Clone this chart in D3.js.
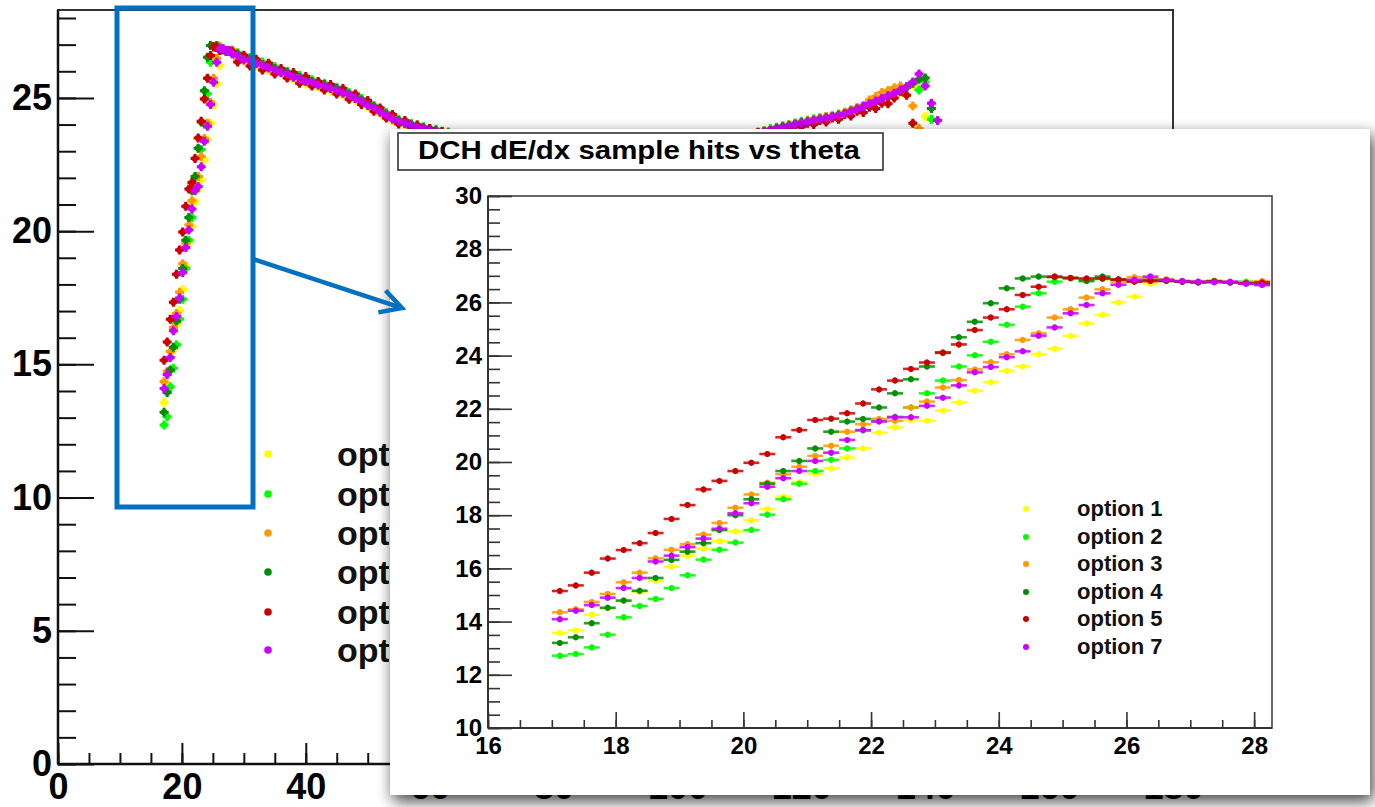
<!DOCTYPE html>
<html>
<head>
<meta charset="utf-8">
<script src="https://cdn.jsdelivr.net/npm/d3@7"></script>
<style>
  html, body { margin: 0; padding: 0; background: #fff; }
  svg { display: block; }
</style>
</head>
<body>
<script>
// ---------------- DATA ----------------
const seriesNames = ["option 1", "option 2", "option 3", "option 4", "option 5", "option 7"];
const seriesColors = ["#ffff00", "#00ff00", "#ff9900", "#008f00", "#cc0000", "#cc00ff"];

// zoomed (inset) binning, theta 17-28.25, bin width 0.25
const insetTheta = [17.125,17.375,17.625,17.875,18.125,18.375,18.625,18.875,19.125,19.375,19.625,19.875,20.125,20.375,20.625,20.875,21.125,21.375,21.625,21.875,22.125,22.375,22.625,22.875,23.125,23.375,23.625,23.875,24.125,24.375,24.625,24.875,25.125,25.375,25.625,25.875,26.125,26.375,26.625,26.875,27.125,27.375,27.625,27.875,28.125];
const opt1 = [13.57,13.67,14.26,14.50,14.78,15.12,15.53,16.06,16.48,16.74,17.02,17.39,17.81,18.23,18.70,19.25,19.55,19.76,20.17,20.51,21.10,21.30,21.58,21.55,21.93,22.24,22.68,23.00,23.42,23.59,24.05,24.26,24.74,25.21,25.53,26.00,26.21,26.71,26.88,26.80,26.78,26.82,26.76,26.74,26.72];
const opt2 = [12.72,12.78,13.03,13.51,14.16,14.59,14.85,15.26,15.74,16.33,16.70,16.97,17.44,18.02,18.60,19.18,19.66,20.08,20.51,21.18,21.55,21.70,22.05,22.58,23.06,23.59,24.01,24.52,25.16,25.84,26.34,26.78,26.90,26.86,26.88,26.84,26.82,26.86,26.82,26.80,26.74,26.76,26.74,26.78,26.70];
const opt3 = [14.35,14.46,14.74,15.04,15.48,15.84,16.38,16.70,16.91,17.27,17.71,18.28,18.78,19.22,19.54,19.82,20.23,20.61,21.14,21.42,21.62,21.55,22.05,22.27,22.80,23.08,23.48,23.75,24.05,24.59,24.84,25.43,25.74,26.18,26.49,26.76,26.95,26.90,26.85,26.80,26.78,26.80,26.76,26.74,26.80];
const opt4 = [13.20,13.41,13.94,14.52,14.79,15.16,15.64,16.32,16.63,16.95,17.44,18.00,18.60,19.18,19.66,20.04,20.51,21.14,21.52,21.62,22.05,22.58,23.11,23.59,24.10,24.69,25.27,25.97,26.53,26.90,26.97,26.95,26.92,26.80,26.97,26.86,26.80,26.84,26.80,26.78,26.76,26.80,26.75,26.72,26.68];
const opt5 = [15.15,15.36,15.84,16.37,16.69,16.95,17.33,17.86,18.38,18.97,19.29,19.66,19.97,20.30,20.93,21.20,21.58,21.63,21.83,22.20,22.73,23.06,23.50,23.74,24.12,24.42,24.96,25.43,25.74,26.28,26.59,26.97,26.92,26.90,26.90,26.86,26.78,26.80,26.82,26.78,26.76,26.78,26.76,26.72,26.75];
const opt7 = [14.09,14.41,14.62,14.90,15.26,15.64,16.26,16.48,16.80,17.12,17.49,18.07,18.45,19.07,19.39,19.66,20.04,20.35,20.83,21.20,21.52,21.68,21.68,22.11,22.42,22.88,23.37,23.57,23.94,24.16,24.75,25.06,25.59,25.90,26.34,26.66,26.85,26.97,26.85,26.80,26.78,26.76,26.78,26.70,26.65];

// full-range (background) plot: visible parts of the band
const bgThetaL = [29,30,31,32,33,34,35,36,37,38,39,40,41,42,43,44,45,46,47,48,49,50,51,52,53,54,55,56,57,58,59,60,61,62,63,64];
const bgOpt1L = [26.40,26.38,26.30,26.20,26.18,26.02,25.95,25.92,25.78,25.70,25.66,25.52,25.50,25.40,25.38,25.25,25.22,25.10,25.02,24.90,24.80,24.66,24.55,24.40,24.30,24.15,24.05,24.00,23.90,23.86,23.80,23.72,23.70,23.62,23.60,23.52];
const bgOpt2L = [26.70,26.55,26.52,26.38,26.35,26.22,26.18,26.05,26.00,25.88,25.85,25.72,25.68,25.58,25.55,25.45,25.40,25.28,25.20,25.08,24.98,24.82,24.72,24.55,24.45,24.28,24.20,24.10,24.05,23.98,23.92,23.85,23.82,23.75,23.72,23.66];
const bgOpt3L = [26.50,26.48,26.35,26.32,26.20,26.18,26.00,26.02,25.85,25.82,25.70,25.68,25.55,25.52,25.42,25.40,25.28,25.22,25.08,25.02,24.85,24.78,24.60,24.50,24.32,24.25,24.10,24.08,23.95,23.95,23.84,23.82,23.72,23.72,23.62,23.62];
const bgOpt4L = [26.65,26.50,26.45,26.35,26.25,26.20,26.10,26.00,25.95,25.82,25.78,25.68,25.62,25.52,25.50,25.40,25.35,25.22,25.15,25.02,24.92,24.78,24.68,24.50,24.40,24.25,24.15,24.08,24.00,23.95,23.88,23.82,23.78,23.72,23.68,23.62];
const bgOpt5L = [26.35,26.60,26.20,26.45,26.05,26.30,25.90,26.10,25.75,25.95,25.55,25.80,25.45,25.62,25.30,25.50,25.15,25.35,24.95,25.15,24.75,24.90,24.50,24.62,24.25,24.38,24.02,24.15,23.90,23.98,23.78,23.85,23.68,23.74,23.58,23.66];
const bgOpt7L = [26.58,26.42,26.40,26.28,26.24,26.12,26.06,25.95,25.92,25.78,25.74,25.62,25.60,25.48,25.46,25.35,25.30,25.18,25.12,24.98,24.88,24.72,24.64,24.46,24.36,24.20,24.12,24.04,23.98,23.90,23.86,23.78,23.76,23.68,23.66,23.58];

const bgThetaR = [112,113,114,115,116,117,118,119,120,121,122,123,124,125,126,127,128,129,130,131,132,133,134,135,136,137,138,139,140,141,142,143];
const bgOpt1R = [23.58,23.66,23.68,23.76,23.80,23.88,23.92,23.98,24.02,24.08,24.12,24.18,24.20,24.26,24.30,24.36,24.45,24.52,24.60,24.70,24.80,24.90,25.00,25.10,25.20,25.35,25.45,25.35,24.30,23.20,null,null];
const bgOpt2R = [23.66,23.72,23.78,23.84,23.90,23.96,24.00,24.06,24.12,24.16,24.22,24.26,24.30,24.34,24.40,24.46,24.55,24.62,24.72,24.82,24.92,25.02,25.12,25.22,25.30,25.42,25.55,25.30,25.60,24.20,23.00,null];
const bgOpt3R = [23.64,23.70,23.76,23.80,23.88,23.92,23.98,24.04,24.10,24.14,24.20,24.24,24.30,24.34,24.38,24.46,24.55,24.64,24.72,24.92,25.05,25.20,25.28,25.38,25.45,25.40,24.70,23.85,23.00,null,null,null];
const bgOpt4R = [23.62,23.68,23.74,23.80,23.86,23.92,23.96,24.02,24.08,24.12,24.16,24.22,24.26,24.30,24.36,24.42,24.50,24.58,24.66,24.76,24.86,24.96,25.06,25.16,25.26,25.40,25.55,25.70,25.75,24.60,23.40,null];
const bgOpt5R = [23.55,23.70,23.62,23.78,23.72,23.88,23.82,23.96,23.92,24.05,24.00,24.15,24.10,24.25,24.20,24.38,24.32,24.50,24.45,24.65,24.60,24.80,24.78,25.00,25.25,25.10,24.05,23.30,22.60,null,null,null];
const bgOpt7R = [23.60,23.66,23.74,23.78,23.86,23.90,23.96,24.00,24.06,24.10,24.16,24.20,24.24,24.30,24.34,24.42,24.50,24.58,24.68,24.78,24.88,24.98,25.08,25.18,25.30,25.42,25.60,25.90,25.45,24.80,24.15,23.50];

// ticks
const bgXTicks = [0,20,40,60,80,100,120,140,160,180];
const bgYTicks = [0,5,10,15,20,25];
const insetXTicks = [16,18,20,22,24,26,28];
const insetYTicks = [10,12,14,16,18,20,22,24,26,28,30];
const insetTitle = "DCH dE/dx sample hits vs theta";

const insetSeries = [opt1, opt2, opt3, opt4, opt5, opt7];
const bgSeriesL = [bgOpt1L, bgOpt2L, bgOpt3L, bgOpt4L, bgOpt5L, bgOpt7L];
const bgSeriesR = [bgOpt1R, bgOpt2R, bgOpt3R, bgOpt4R, bgOpt5R, bgOpt7R];

// ---------------- DRAW ----------------
const W = 1375, H = 807;
const FONT = "'Liberation Sans', Arial, Helvetica, sans-serif";
const svg = d3.select("body").append("svg").attr("width", W).attr("height", H);
svg.append("rect").attr("width", W).attr("height", H).attr("fill", "#fff");

const defs = svg.append("defs");
const f = defs.append("filter").attr("id", "shadow")
  .attr("x", "-8%").attr("y", "-10%").attr("width", "116%").attr("height", "125%");
f.append("feGaussianBlur").attr("in", "SourceAlpha").attr("stdDeviation", 8).attr("result", "b");
f.append("feOffset").attr("in", "b").attr("dx", 3).attr("dy", 6).attr("result", "o");
const ct = f.append("feComponentTransfer").attr("in", "o").attr("result", "s");
ct.append("feFuncA").attr("type", "linear").attr("slope", 0.75);
const fm = f.append("feMerge");
fm.append("feMergeNode").attr("in", "s");
fm.append("feMergeNode").attr("in", "SourceGraphic");
// the part of the full-range plot that is not hidden by the zoom panel
defs.append("clipPath").attr("id", "bgVisible").append("rect")
  .attr("x", 0).attr("y", 0).attr("width", 389).attr("height", H);

// ---- background (full range) chart ----
const xB = d3.scaleLinear().domain([0, 180]).range([58, 1173]);
const yB = d3.scaleLinear().domain([0, 28.3]).range([764, 10]);
const bg = svg.append("g");

// frame
bg.append("rect").attr("x", xB(0)).attr("y", yB(28.3)).attr("width", xB(180) - xB(0)).attr("height", yB(0) - yB(28.3))
  .attr("fill", "none").attr("stroke", "#333").attr("stroke-width", 2);

function styleAxis(g, size, color, sw) {
  g.select(".domain").remove();
  g.selectAll("line").attr("stroke", color).attr("stroke-width", sw);
  g.selectAll("text").attr("font-family", FONT).attr("font-weight", "bold")
    .attr("font-size", size).attr("fill", "#000");
  g.attr("font-family", null).attr("font-size", null);
}

// y axis background
const bgYMinor = d3.range(0, 29, 1);
bg.append("g").attr("transform", `translate(${xB(0)},0)`)
  .call(d3.axisLeft(yB).tickValues(bgYMinor).tickSize(-18).tickFormat(""))
  .call(g => styleAxis(g, 36, "#111", 2));
bg.append("g").attr("transform", `translate(${xB(0)},0)`)
  .call(d3.axisLeft(yB).tickValues(bgYTicks).tickSize(-36).tickPadding(6).tickFormat(d3.format("d")))
  .call(g => styleAxis(g, 36, "#111", 2));
// x axis background
const bgXMinor = d3.range(0, 181, 5);
bg.append("g").attr("transform", `translate(0,${yB(0)})`)
  .call(d3.axisBottom(xB).tickValues(bgXMinor).tickSize(-11).tickFormat(""))
  .call(g => styleAxis(g, 36, "#111", 2));
bg.append("g").attr("transform", `translate(0,${yB(0)})`)
  .call(d3.axisBottom(xB).tickValues(bgXTicks).tickSize(-21).tickPadding(9).tickFormat(d3.format("d")))
  .call(g => styleAxis(g, 36, "#111", 2));
// axis lines
bg.append("line").attr("x1", xB(0)).attr("x2", xB(0)).attr("y1", yB(0)).attr("y2", yB(28.3)).attr("stroke", "#111").attr("stroke-width", 2.5);
bg.append("line").attr("x1", xB(0)).attr("x2", xB(180)).attr("y1", yB(0)).attr("y2", yB(0)).attr("stroke", "#111").attr("stroke-width", 2.5);

// background markers (full-range plot uses every second fine bin in the rise region)
const bgData = bg.append("g");
seriesNames.forEach((name, si) => {
  const color = seriesColors[si];
  const pts = [];
  insetTheta.forEach((t, i) => { if (i % 2 === 0) pts.push({ t, v: insetSeries[si][i] }); });
  bgThetaL.forEach((t, i) => pts.push({ t, v: bgSeriesL[si][i] }));
  bgThetaR.forEach((t, i) => pts.push({ t, v: bgSeriesR[si][i] }));
  const m = bgData.append("g").selectAll("g").data(pts.filter(d => d.v != null)).join("g")
    .attr("transform", d => `translate(${xB(d.t)},${yB(d.v)})`);
  m.append("path").attr("d", "M-4.5,0H4.5M0,-4.5V4.5").attr("stroke", color).attr("stroke-width", 3);
  m.append("circle").attr("r", 3.2).attr("fill", color);
});

// background legend (mostly hidden behind the zoom panel)
const bgLegY = [454, 494, 533, 572, 612, 650];
const bgLeg = bg.append("g").attr("clip-path", "url(#bgVisible)");
seriesNames.forEach((name, si) => {
  bgLeg.append("circle").attr("cx", 268).attr("cy", bgLegY[si]).attr("r", 3.8).attr("fill", seriesColors[si]);
  bgLeg.append("text").attr("x", 337).attr("y", bgLegY[si] + 12).text(name)
    .attr("font-family", FONT).attr("font-weight", "bold").attr("font-size", 34).attr("fill", "#111");
});

// blue selection box
svg.append("rect").attr("x", 117).attr("y", 8).attr("width", 136).attr("height", 499)
  .attr("fill", "none").attr("stroke", "#0070c0").attr("stroke-width", 5);

// ---- inset panel ----
const inset = svg.append("g");
inset.append("rect").attr("x", 390).attr("y", 129).attr("width", 980).attr("height", 666)
  .attr("fill", "#fff").attr("filter", "url(#shadow)");

const xI = d3.scaleLinear().domain([16, 28.28]).range([488, 1272]);
const yI = d3.scaleLinear().domain([10, 30]).range([728, 196]);

inset.append("rect").attr("x", xI(16)).attr("y", yI(30)).attr("width", xI(28.28) - xI(16)).attr("height", yI(10) - yI(30))
  .attr("fill", "none").attr("stroke", "#444").attr("stroke-width", 1.6);

inset.append("g").attr("transform", `translate(${xI(16)},0)`)
  .call(d3.axisLeft(yI).tickValues(d3.range(10, 30.01, 0.5)).tickSize(-12).tickFormat(""))
  .call(g => styleAxis(g, 24, "#333", 1.6));
inset.append("g").attr("transform", `translate(${xI(16)},0)`)
  .call(d3.axisLeft(yI).tickValues(insetYTicks).tickSize(-24).tickPadding(6).tickFormat(d3.format("d")))
  .call(g => styleAxis(g, 24, "#333", 1.6));
inset.append("g").attr("transform", `translate(0,${yI(10)})`)
  .call(d3.axisBottom(xI).tickValues(d3.range(16, 28.01, 0.5)).tickSize(-8).tickFormat(""))
  .call(g => styleAxis(g, 24, "#333", 1.6));
inset.append("g").attr("transform", `translate(0,${yI(10)})`)
  .call(d3.axisBottom(xI).tickValues(insetXTicks).tickSize(-16).tickPadding(9).tickFormat(d3.format("d")))
  .call(g => styleAxis(g, 24, "#333", 1.6));
inset.append("line").attr("x1", xI(16)).attr("x2", xI(16)).attr("y1", yI(10)).attr("y2", yI(30)).attr("stroke", "#333").attr("stroke-width", 2);
inset.append("line").attr("x1", xI(16)).attr("x2", xI(28.28)).attr("y1", yI(10)).attr("y2", yI(10)).attr("stroke", "#333").attr("stroke-width", 2);

// inset markers with horizontal error bars
const insetData = inset.append("g");
seriesNames.forEach((name, si) => {
  const color = seriesColors[si];
  const pts = insetTheta.map((t, i) => ({ t, v: insetSeries[si][i] }));
  const m = insetData.append("g").selectAll("g").data(pts).join("g")
    .attr("transform", d => `translate(${xI(d.t)},${yI(d.v)})`);
  m.append("line").attr("x1", d => xI(d.t - 0.125) - xI(d.t)).attr("x2", d => xI(d.t + 0.125) - xI(d.t))
    .attr("stroke", color).attr("stroke-width", 2.6).attr("stroke-opacity", 0.85);
  m.append("line").attr("y1", -3).attr("y2", 3).attr("stroke", color).attr("stroke-width", 1.6);
  m.append("circle").attr("r", 3).attr("fill", color);
});

// inset title
inset.append("rect").attr("x", 398).attr("y", 133).attr("width", 485).attr("height", 37)
  .attr("fill", "#fff").attr("stroke", "#333").attr("stroke-width", 1.6);
inset.append("text").attr("x", 418).attr("y", 159)
  .attr("textLength", 442).attr("lengthAdjust", "spacingAndGlyphs")
  .attr("font-family", FONT).attr("font-weight", "bold").attr("font-size", 26).attr("fill", "#000")
  .text(insetTitle);

// inset legend
const inLegY = [509, 537, 564, 592, 619, 647];
seriesNames.forEach((name, si) => {
  inset.append("circle").attr("cx", 1026).attr("cy", inLegY[si]).attr("r", 3).attr("fill", seriesColors[si]);
  inset.append("text").attr("x", 1077).attr("y", inLegY[si] + 7).text(name)
    .attr("font-family", FONT).attr("font-weight", "bold").attr("font-size", 22).attr("fill", "#111");
});

// arrow from the selection box to the inset
const ax1 = 253, ay1 = 259, ax2 = 402, ay2 = 308;
const ang = Math.atan2(ay2 - ay1, ax2 - ax1);
const ah = 24, aw = 0.5;
svg.append("line").attr("x1", ax1).attr("y1", ay1).attr("x2", ax2 - 2).attr("y2", ay2 - 0.7)
  .attr("stroke", "#0070c0").attr("stroke-width", 4.5);
svg.append("path")
  .attr("d", `M${ax2 - ah * Math.cos(ang - aw)},${ay2 - ah * Math.sin(ang - aw)}L${ax2},${ay2}L${ax2 - ah * Math.cos(ang + aw)},${ay2 - ah * Math.sin(ang + aw)}`)
  .attr("fill", "none").attr("stroke", "#0070c0").attr("stroke-width", 4.5).attr("stroke-linejoin", "miter");
</script>
</body>
</html>
